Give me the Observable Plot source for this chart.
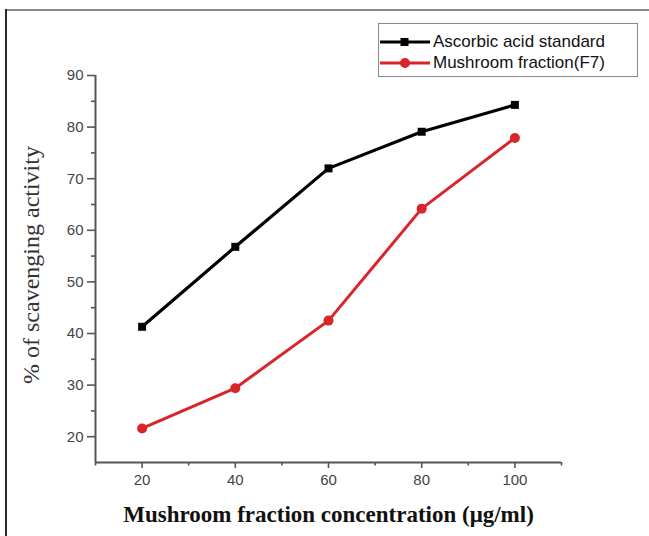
<!DOCTYPE html>
<html>
<head>
<meta charset="utf-8">
<script src="https://cdn.jsdelivr.net/npm/d3@7"></script>
<script src="https://cdn.jsdelivr.net/npm/@observablehq/plot@0.6"></script>
<style>
  html, body { margin: 0; padding: 0; background: #fff; }
  #wrap { position: relative; width: 649px; height: 536px; overflow: hidden; }
  #topline { position: absolute; left: 6px; top: 9px; width: 643px; height: 0; border-top: 2px solid #8a8a8a; }
  #leftline { position: absolute; left: 5px; top: 9px; width: 0; height: 527px; border-left: 2px solid #2a2a2a; }
  #legend { position: absolute; left: 378px; top: 23px; width: 260px; height: 54px; border: 1.5px solid #8a8a8a; box-sizing: border-box; background: #fff; font-family: "Liberation Sans", Arial, sans-serif; font-size: 17px; color: #111; }
  .row { position: absolute; left: 0; height: 20px; display: flex; align-items: center; }
  .row svg { display: block; }
  .row span { margin-left: 2px; white-space: nowrap; }
  #chart { position: absolute; left: 0; top: 0; }
</style>
</head>
<body>
<div id="wrap">
  <div id="chart"></div>
  <div id="topline"></div>
  <div id="leftline"></div>
  <div id="legend"></div>
</div>
<script>
const concentrations = [20, 40, 60, 80, 100];
const ascorbicAcid = [41.3, 56.8, 72.0, 79.1, 84.3];
const mushroomF7 = [21.6, 29.4, 42.5, 64.2, 77.9];
const seriesNames = ["Ascorbic acid standard", "Mushroom fraction(F7)"];
const seriesColors = ["#000000", "#d9252a"];
const xMajorTicks = [20, 40, 60, 80, 100];
const xMinorTicks = [10, 30, 50, 70, 90, 110];
const yMajorTicks = [20, 30, 40, 50, 60, 70, 80, 90];
const yMinorTicks = [25, 35, 45, 55, 65, 75, 85];
const xTitle = "Mushroom fraction concentration (\u03bcg/ml)";
const yTitle = "% of scavenging activity";

const black = concentrations.map((c, i) => ({x: c, y: ascorbicAcid[i]}));
const red = concentrations.map((c, i) => ({x: c, y: mushroomF7[i]}));

const axisColor = "#555";
const sans = "'Liberation Sans', Arial, sans-serif";
const serif = "'Liberation Serif', 'Times New Roman', serif";
const xMin = 10, yMin = 15;

const chart = Plot.plot({
  width: 649,
  height: 536,
  marginLeft: 95,
  marginRight: 88,
  marginTop: 75,
  marginBottom: 74,
  style: {background: "transparent", fontFamily: sans, overflow: "visible"},
  x: {domain: [10, 110], label: null},
  y: {domain: [15, 90], label: null},
  marks: [
    Plot.axisX({ticks: xMajorTicks, tickSize: 6, tickFormat: () => "", stroke: axisColor, strokeWidth: 1.6, label: null}),
    Plot.axisX({ticks: xMinorTicks, tickSize: 3.5, tickFormat: () => "", stroke: axisColor, strokeWidth: 1.6, label: null}),
    Plot.axisY({ticks: yMajorTicks, tickSize: 8, tickFormat: () => "", stroke: axisColor, strokeWidth: 1.6, label: null}),
    Plot.axisY({ticks: yMinorTicks, tickSize: 4, tickFormat: () => "", stroke: axisColor, strokeWidth: 1.6, label: null}),
    Plot.text(xMajorTicks, {x: d => d, y: () => yMin, dy: 18, text: d => String(d), fontSize: 15, fontFamily: sans, fill: "#444", textAnchor: "middle", lineAnchor: "middle"}),
    Plot.text(yMajorTicks, {x: () => xMin, y: d => d, dx: -12, text: d => String(d), fontSize: 15, fontFamily: sans, fill: "#444", textAnchor: "end", lineAnchor: "middle"}),
    Plot.ruleX([10], {stroke: axisColor, strokeWidth: 2}),
    Plot.ruleY([15], {stroke: axisColor, strokeWidth: 2}),
    Plot.line(black, {x: "x", y: "y", stroke: seriesColors[0], strokeWidth: 3.2}),
    Plot.dot(black, {x: "x", y: "y", symbol: "square", r: 4.5, fill: seriesColors[0], stroke: "none"}),
    Plot.line(red, {x: "x", y: "y", stroke: seriesColors[1], strokeWidth: 3}),
    Plot.dot(red, {x: "x", y: "y", symbol: "circle", r: 5, fill: seriesColors[1], stroke: "none"}),
    Plot.text([xTitle], {frameAnchor: "bottom", dy: 52, text: d => d, textAnchor: "middle", fontFamily: serif, fontWeight: "bold", fontSize: 23, fill: "#111", lineAnchor: "middle"}),
    Plot.text([yTitle], {frameAnchor: "left", dx: -64, dy: -4, text: d => d, rotate: -90, textAnchor: "middle", fontFamily: serif, fontSize: 24, fill: "#333", lineAnchor: "middle"})
  ]
});
document.getElementById("chart").appendChild(chart);

// Legend
const legend = document.getElementById("legend");
const symbols = ["square", "circle"];
seriesNames.forEach((name, i) => {
  const row = document.createElement("div");
  row.className = "row";
  row.style.top = (8 + i * 21) + "px";
  const ns = "http://www.w3.org/2000/svg";
  const svg = document.createElementNS(ns, "svg");
  svg.setAttribute("width", 52);
  svg.setAttribute("height", 16);
  const ln = document.createElementNS(ns, "line");
  ln.setAttribute("x1", 1); ln.setAttribute("x2", 51);
  ln.setAttribute("y1", 8); ln.setAttribute("y2", 8);
  ln.setAttribute("stroke", seriesColors[i]);
  ln.setAttribute("stroke-width", 3);
  svg.appendChild(ln);
  if (symbols[i] === "square") {
    const r = document.createElementNS(ns, "rect");
    r.setAttribute("x", 21.5); r.setAttribute("y", 4);
    r.setAttribute("width", 8); r.setAttribute("height", 8);
    r.setAttribute("fill", seriesColors[i]);
    svg.appendChild(r);
  } else {
    const c = document.createElementNS(ns, "circle");
    c.setAttribute("cx", 26); c.setAttribute("cy", 8); c.setAttribute("r", 5);
    c.setAttribute("fill", seriesColors[i]);
    svg.appendChild(c);
  }
  row.appendChild(svg);
  const span = document.createElement("span");
  span.textContent = name;
  row.appendChild(span);
  legend.appendChild(row);
});
</script>
</body>
</html>
